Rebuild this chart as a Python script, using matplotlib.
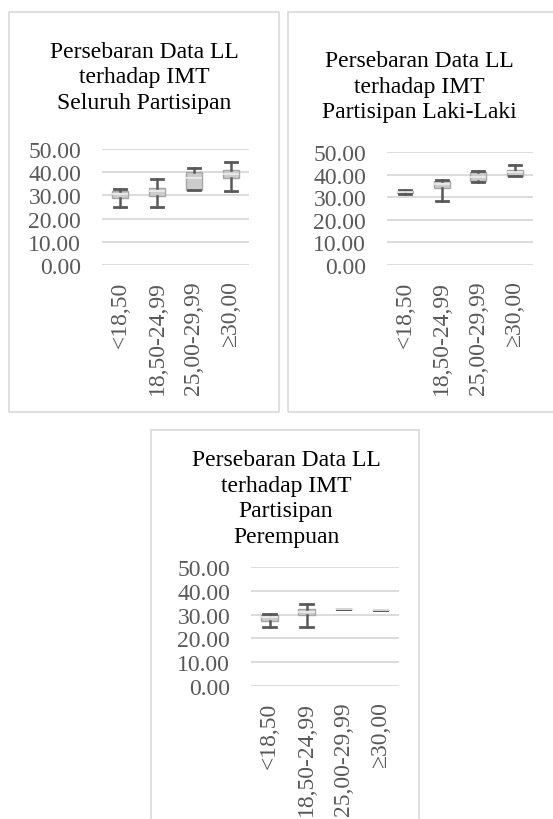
import matplotlib
matplotlib.use("Agg")
import matplotlib.pyplot as plt
from matplotlib.patches import Rectangle

plt.rcParams['font.family'] = ['Liberation Serif', 'DejaVu Serif']

# Kategori IMT
categories = ['<18,50', '18,50-24,99', '25,00-29,99', '≥30,00']
yticks = [0, 10, 20, 30, 40, 50]

titles = ['Persebaran Data LL\nterhadap IMT\nSeluruh Partisipan',
          'Persebaran Data LL\nterhadap IMT\nPartisipan Laki-Laki',
          'Persebaran Data LL\nterhadap IMT\nPartisipan\nPerempuan']

# Seluruh partisipan
all_whislo = [24.9, 24.9, 32.3, 32.0]
all_q1 = [28.7, 29.9, 32.3, 37.5]
all_med = [30.6, 31.8, 37.4, 39.2]
all_q3 = [32.0, 33.0, 40.2, 40.9]
all_whishi = [32.8, 37.1, 41.7, 44.3]

# Laki-laki
male_whislo = [31.6, 28.5, 36.7, 39.6]
male_q1 = [31.8, 34.0, 37.0, 39.6]
male_med = [32.2, 35.9, 38.9, 41.1]
male_q3 = [32.6, 37.0, 41.1, 42.2]
male_whishi = [33.0, 37.4, 41.6, 44.4]

# Perempuan
female_whislo = [24.9, 24.9, 32.5, 32.0]
female_q1 = [27.3, 29.9, 32.5, 32.0]
female_med = [28.9, 31.3, 32.5, 32.0]
female_q3 = [29.9, 32.3, 32.5, 32.0]
female_whishi = [30.1, 34.5, 32.5, 32.0]

W, H = 553, 820
fig = plt.figure(figsize=(W / 100, H / 100), dpi=100)


def px_axes(x0, y0, x1, y1):
    # coordonnées en pixels (origine en haut à gauche)
    return fig.add_axes([x0 / W, 1 - y1 / H, (x1 - x0) / W, (y1 - y0) / H])


def panel_box(x0, y0, x1, y1):
    fig.patches.append(Rectangle((x0 / W, 1 - y1 / H), (x1 - x0) / W, (y1 - y0) / H,
                                 transform=fig.transFigure, fill=False,
                                 edgecolor='#d9d9d9', linewidth=1.2))


def draw(ax, whislo, q1, med, q3, whishi):
    stats = []
    for i in range(len(categories)):
        stats.append({'whislo': whislo[i], 'q1': q1[i], 'med': med[i],
                      'q3': q3[i], 'whishi': whishi[i], 'fliers': []})
    ax.bxp(stats, positions=range(len(categories)), widths=0.44, capwidths=0.33,
           patch_artist=True, showfliers=False,
           boxprops=dict(facecolor='#cccccc', edgecolor='#a6a6a6', linewidth=1),
           medianprops=dict(color='#eeeeee', linewidth=1.2),
           whiskerprops=dict(color='#595959', linewidth=1.8),
           capprops=dict(color='#595959', linewidth=2))
    ax.set_xlim(-0.5, len(categories) - 0.5)
    ax.set_ylim(0, 50)
    ax.set_yticks(yticks)
    ax.set_yticklabels(['%.2f' % v for v in yticks])
    ax.set_xticks(range(len(categories)))
    ax.set_xticklabels(categories, rotation=90)
    ax.tick_params(axis='y', length=0, pad=15, labelsize=17, labelcolor='#595959')
    ax.tick_params(axis='x', length=0, pad=11, labelsize=17, labelcolor='#595959')
    ax.grid(axis='y', color='#d9d9d9', linewidth=1.3)
    ax.set_axisbelow(True)
    for s in ax.spines.values():
        s.set_visible(False)


panel_box(9, 13, 279, 413)
panel_box(288, 13, 556, 413)
panel_box(151, 431, 419, 823)

ax1 = px_axes(102, 150, 249, 266)
draw(ax1, all_whislo, all_q1, all_med, all_q3, all_whishi)
ax2 = px_axes(387, 153, 533, 266)
draw(ax2, male_whislo, male_q1, male_med, male_q3, male_whishi)
ax3 = px_axes(251, 568, 399, 687)
draw(ax3, female_whislo, female_q1, female_med, female_q3, female_whishi)

fig.text(144 / W, 1 - 78 / H, titles[0], ha='center', va='center', fontsize=17, linespacing=1.3)
fig.text(419 / W, 1 - 87 / H, titles[1], ha='center', va='center', fontsize=17, linespacing=1.3)
fig.text(286 / W, 1 - 499 / H, titles[2], ha='center', va='center', fontsize=17, linespacing=1.3)

fig.savefig('out.png', dpi=100, facecolor='white')
